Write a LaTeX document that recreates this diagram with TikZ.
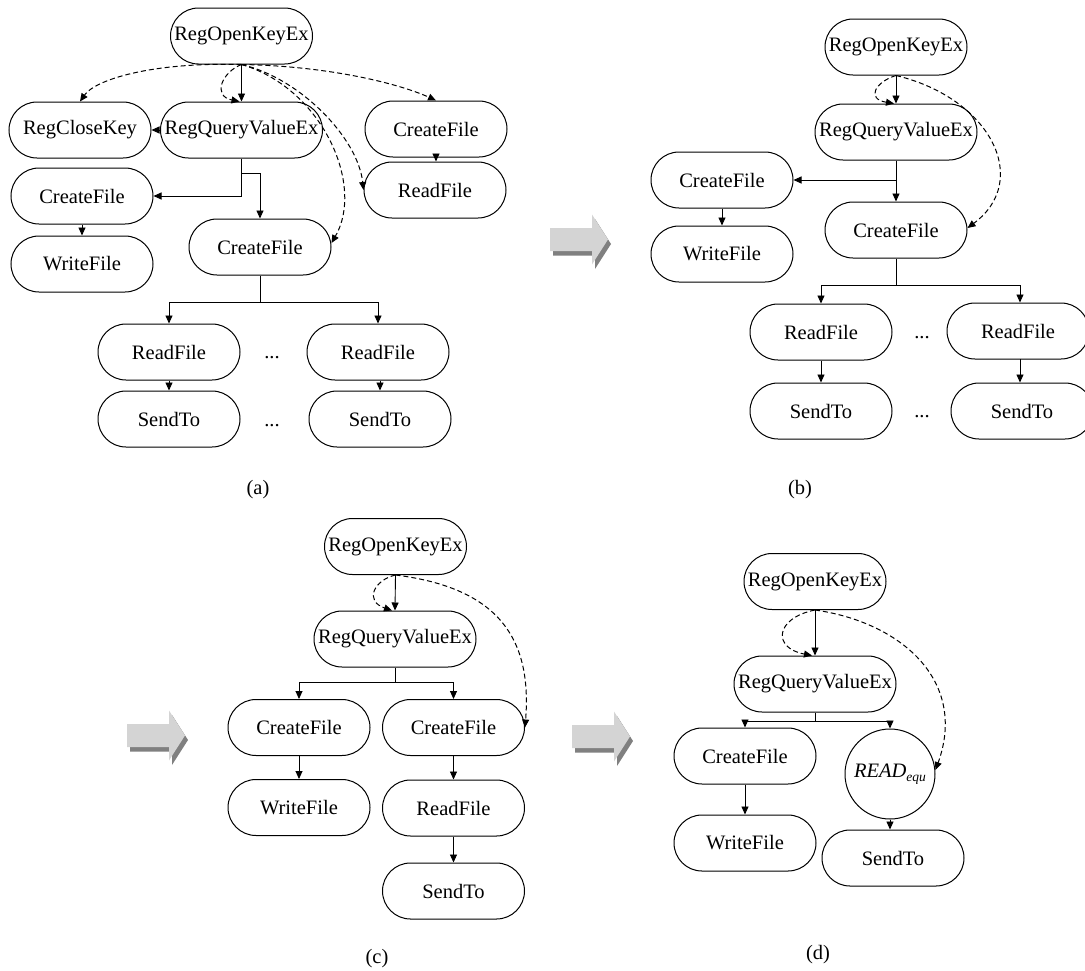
\documentclass[tikz,border=0pt]{standalone}
\usepackage{fontspec}
\setmainfont{Liberation Serif}
\usetikzlibrary{arrows.meta,calc}
\newcommand{\fs}{\fontsize{20.5}{23}\selectfont}
\definecolor{arrlight}{HTML}{D4D4D4}
\definecolor{arrdark}{HTML}{808080}
\tikzset{
  proc/.style={draw, line width=1pt, rectangle, rounded corners=28pt, minimum width=142pt, minimum height=56pt, inner sep=0pt, font=\fs, fill=white},
  wideproc/.style={proc, minimum width=162pt},
  circproc/.style={draw, line width=1pt, circle, minimum size=90pt, inner sep=0pt, font=\fs, fill=white},
  conn/.style={line width=0.9pt, -{Triangle[length=8pt,width=7pt]}},
  dconn/.style={conn, line width=1pt, dash pattern=on 5pt off 3pt},
  plainline/.style={line width=0.9pt},
  lbl/.style={font=\fs, inner sep=0pt},
}
\newcommand{\grayarrow}[2]{%
  \fill[arrdark] ($(#1,#2)+(3,4.5)$) -- ++(42,0) -- ++(0,-13.5) -- ++(16,25) -- ++(-16,25) -- ++(0,-13.5) -- ++(-42,0) -- cycle;
  \fill[arrlight] (#1,#2) -- ++(42,0) -- ++(0,-13.5) -- ++(16,25) -- ++(-16,25) -- ++(0,-13.5) -- ++(-42,0) -- cycle;
}
\begin{document}
\begin{tikzpicture}[x=1pt,y=-1pt]
\useasboundingbox (0,0) rectangle (1085,970);

% ---------------- (a) ----------------
\node[proc] (ao) at (241.5,36) {RegOpenKeyEx};
\node[proc] (ac) at (80,130) {RegCloseKey};
\node[wideproc] (aq) at (241.5,130) {RegQueryValueEx};
\node[proc] (atc) at (436,129) {CreateFile};
\node[proc] (atr) at (435,190) {ReadFile};
\node[proc] (acf1) at (82,196) {CreateFile};
\node[proc] (aw) at (82,264) {WriteFile};
\node[proc] (acf2) at (260,247) {CreateFile};
\node[proc] (ar1) at (169,352) {ReadFile};
\node[proc] (ar2) at (378,352) {ReadFile};
\node[proc] (as1) at (169,419) {SendTo};
\node[proc] (as2) at (380,419) {SendTo};
\node[lbl, anchor=base] (adot1) at (272,358) {...};
\node[lbl, anchor=base] (adot2) at (272,426) {...};
\node[lbl] (acap) at (258,490) {(a)};

\coordinate (aj1) at (241.5,173);
\coordinate (aj2) at (260,302);
\draw[conn] (ao.south) -- (aq.north);
\draw[conn] (aq.west) -- (ac.east);
\draw[conn] (aq.south) |- (acf1.east);
\draw[conn] (aj1) -| (acf2.north);
\draw[conn] (acf1.south) -- (aw.north);
\draw[conn] (atc.south) -- (atc.south |- atr.north);
\draw[plainline] (acf2.south) -- (aj2);
\draw[conn] (aj2) -| (ar1.north);
\draw[conn] (aj2) -| (ar2.north);
\draw[conn] (ar1.south) -- (as1.north);
\draw[conn] (as2.north |- ar2.south) -- (as2.north);
% dashed
\draw[dconn] (ao.south) .. controls (150,62) and (95,80) .. (ac.north);
\draw[dconn] (ao.south) .. controls (222,72) and (212,96) .. ($(aq.north)+(-2,0)$);
\draw[dconn] (ao.south) .. controls (330,66) and (400,84) .. (atc.north);
\draw[dconn] (ao.south) .. controls (300,78) and (358,138) .. (atr.west);
\draw[dconn] (ao.south) .. controls (322,88) and (365,185) .. ($(acf2.east)+(0,-4)$);

% ---------------- (b) ----------------
\grayarrow{550}{228}
\node[proc] (bo) at (896,47) {RegOpenKeyEx};
\node[wideproc] (bq) at (896,132) {RegQueryValueEx};
\node[proc] (bcf1) at (722,180) {CreateFile};
\node[proc] (bw) at (722,254) {WriteFile};
\node[proc] (bcf2) at (896,230) {CreateFile};
\node[proc] (br1) at (821,332) {ReadFile};
\node[proc] (br2) at (1018,331) {ReadFile};
\node[proc] (bs1) at (821,411) {SendTo};
\node[proc] (bs2) at (1022,411) {SendTo};
\node[lbl, anchor=base] (bdot1) at (922,338) {...};
\node[lbl, anchor=base] (bdot2) at (922,417) {...};
\node[lbl] (bcap) at (800,490) {(b)};

\coordinate (bj) at (896,285);
\coordinate (bx) at (1020,359);
\draw[conn] (bo.south) -- (bq.north);
\draw[conn] (bq.south) |- (bcf1.east);
\draw[conn] (bq.south) -- (bcf2.north);
\draw[conn] (bcf1.south) -- (bw.north);
\draw[plainline] (bcf2.south) -- (bj);
\draw[conn] (bj) -| (br1.north);
\draw[conn] (bj) -| (bx |- br2.north);
\draw[conn] (br1.south) -- (bs1.north);
\draw[conn] (bx) -- (bx |- bs2.north);
\draw[dconn] (bo.south) .. controls (875,82) and (866,99) .. ($(bq.north)+(-2,0)$);
\draw[dconn] (bo.south) .. controls (990,98) and (1032,180) .. ($(bcf2.east)+(0,-2)$);

% ---------------- (c) ----------------
\grayarrow{127}{724}
\node[proc] (co) at (395.5,546.5) {RegOpenKeyEx};
\node[wideproc] (cq) at (395,639) {RegQueryValueEx};
\node[proc] (ccf1) at (299,727.5) {CreateFile};
\node[proc] (ccf2) at (453.5,727.5) {CreateFile};
\node[proc] (cw) at (299,807.5) {WriteFile};
\node[proc] (cr) at (453.5,808) {ReadFile};
\node[proc] (cs) at (453.5,891) {SendTo};
\node[lbl] (ccap) at (377,959) {(c)};

\coordinate (cj) at (395,682);
\draw[conn] (co.south) -- (cq.north);
\draw[plainline] (cq.south) -- (cj);
\draw[conn] (cj) -| (ccf1.north);
\draw[conn] (cj) -| (ccf2.north);
\draw[conn] (ccf1.south) -- (cw.north);
\draw[conn] (ccf2.south) -- (cr.north);
\draw[conn] (cr.south) -- (cs.north);
\draw[dconn] (co.south) .. controls (374,580) and (364,601) .. ($(cq.north)+(-3,0)$);
\draw[dconn] (co.south) .. controls (500,588) and (532,640) .. (ccf2.east);

% ---------------- (d) ----------------
\grayarrow{572}{725}
\node[proc] (do) at (815,581.5) {RegOpenKeyEx};
\node[wideproc] (dq) at (815,684) {RegQueryValueEx};
\node[proc] (dcf) at (745,756) {CreateFile};
\node[circproc] (dc) at (890,774) {\textit{READ}\raisebox{-4.5pt}{\fontsize{13.5}{14}\selectfont\itshape equ}};
\node[proc] (dw) at (745,843) {WriteFile};
\node[proc] (ds) at (893,858) {SendTo};
\node[lbl] (dcap) at (818,955) {(d)};

\coordinate (dj) at (815,721);
\draw[conn] (do.south) -- (dq.north);
\draw[plainline] (dq.south) -- (dj);
\draw[conn] (dj) -| (dcf.north);
\draw[conn] (dj) -| (dc.north);
\draw[conn] (dcf.south) -- (dw.north);
\draw[conn] (dc.south) -- (dc.south |- ds.north);
\draw[dconn] (do.south) .. controls (775,618) and (772,648) .. ($(dq.north)+(-3,0)$);
\draw[dconn] (do.south) .. controls (900,622) and (968,680) .. ($(dc.east)+(0,-4)$);
\end{tikzpicture}
\end{document}
